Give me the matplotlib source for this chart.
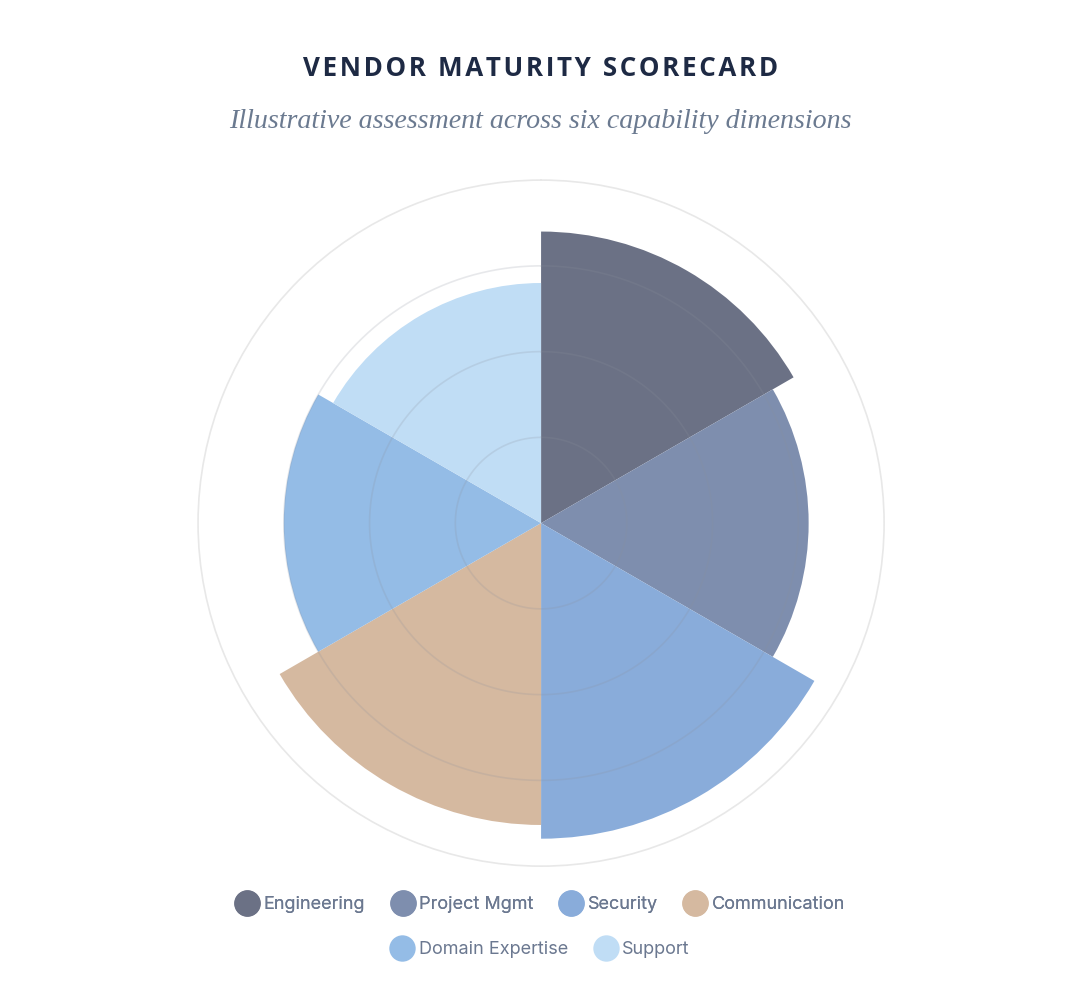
import numpy as np
import matplotlib.pyplot as plt
from matplotlib.lines import Line2D

categories = ['Engineering', 'Project Mgmt', 'Security', 'Communication',
              'Domain Expertise', 'Support']
scores = [85, 78, 92, 88, 75, 70]
colors = ['#6b7185', '#7e8eae', '#89acda', '#d5b9a0', '#94bce6', '#c0ddf5']
ring_ticks = [25, 50, 75, 100]

fig = plt.figure(figsize=(10.9, 10.06), dpi=100)
fig.patch.set_facecolor('white')

ax = fig.add_axes([0.1817, 0.139, 0.6294, 0.682], projection='polar')
ax.set_theta_offset(np.pi / 2)
ax.set_theta_direction(-1)

n = len(categories)
width = 2 * np.pi / n
theta = np.arange(n) * width
ax.bar(theta, scores, width=width, align='edge', color=colors,
       edgecolor='none', linewidth=0, zorder=2)

ax.set_ylim(0, 100)
ax.set_yticks(ring_ticks)
ax.set_yticklabels([])
ax.set_xticks([])
ax.grid(False)
# faint rings, drawn over the sectors
t = np.linspace(0, 2 * np.pi, 400)
for r in ring_ticks[:-1]:
    ax.plot(t, np.full_like(t, r), color='#8a909c', alpha=0.2, lw=1.2, zorder=3)
ax.spines['polar'].set_color('#e8e8e8')
ax.spines['polar'].set_linewidth(1.2)

title = '\u200a'.join('VENDOR MATURITY SCORECARD')
fig.text(0.496, 0.932, title, ha='center', va='center', fontsize=18.7,
         fontweight='bold', color='#1e2a44', family='Open Sans')
fig.text(0.496, 0.879, 'Illustrative assessment across six capability dimensions',
         ha='center', va='center', fontsize=20.2, style='italic',
         color='#6b7a90', family='Liberation Serif')

handles = [Line2D([], [], marker='o', ls='none', markersize=19,
                  markerfacecolor=c, markeredgecolor='none') for c in colors]
kw = dict(frameon=False, handletextpad=0.3, columnspacing=1.5,
          handlelength=1.2, prop={'family': 'Inter', 'size': 13},
          labelcolor='#6b7890')
leg1 = fig.legend(handles[:4], categories[:4], ncol=4, loc='center',
                  bbox_to_anchor=(0.496, 0.101), **kw)
fig.add_artist(leg1)
fig.legend(handles[4:], categories[4:], ncol=2, loc='center',
           bbox_to_anchor=(0.496, 0.056), **kw)

fig.savefig('out.png', dpi=100, facecolor='white')
